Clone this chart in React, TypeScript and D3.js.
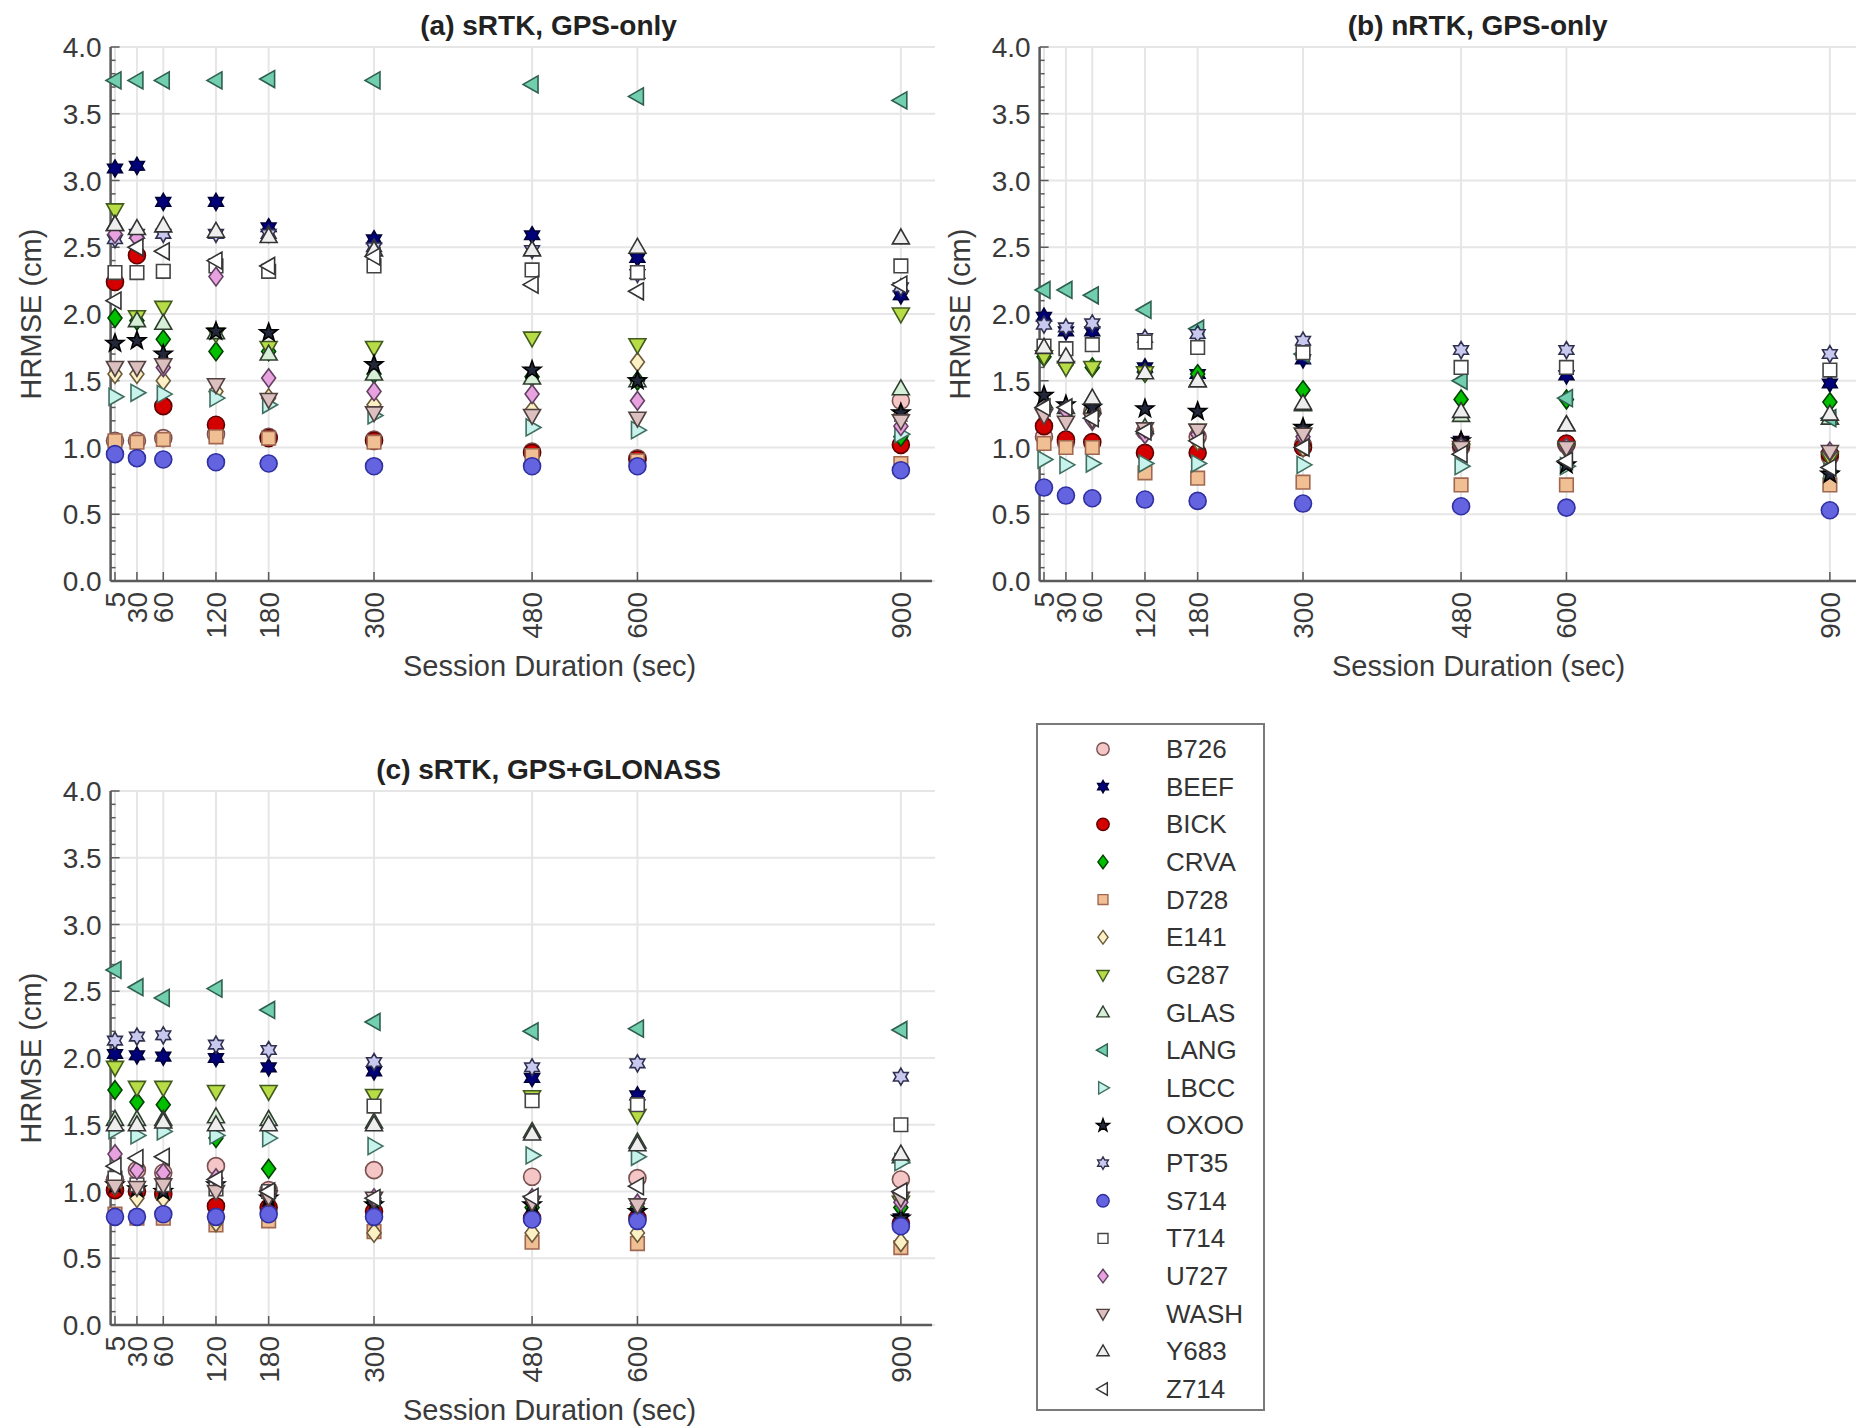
import React from "react";
import * as d3 from "d3";

const durations = [5, 30, 60, 120, 180, 300, 480, 600, 900];
const yTicks = [0, 0.5, 1, 1.5, 2, 2.5, 3, 3.5, 4];
const stations = ["B726", "BEEF", "BICK", "CRVA", "D728", "E141", "G287", "GLAS", "LANG", "LBCC", "OXOO", "PT35", "S714", "T714", "U727", "WASH", "Y683", "Z714"];
const shapes = ["o", "h", "o", "d", "s", "d", "v", "^", "<", ">", "p", "h", "o", "s", "d", "v", "^", "<"];
const faces = ["#f4c6c6", "#00007a", "#d40000", "#00c000", "#f0bf94", "#fdf0c4", "#b8dc46", "#d6efd6", "#72cfae", "#c8f2ec", "#22283a", "#c9c9ef", "#6464e0", "#ffffff", "#e8a2e0", "#dcc0c0", "#eeeeee", "#ffffff"];
const edges = ["#7a5050", "#00003a", "#600000", "#004000", "#a06850", "#6b5a3a", "#405a20", "#2f3f2f", "#2f5f50", "#3f6f60", "#000000", "#303050", "#3030a0", "#444444", "#604060", "#504040", "#333333", "#333333"];

// (a) sRTK, GPS-only  — rows follow `stations`, columns follow `durations`
const panelA = [
  [1.05, 1.05, 1.07, 1.1, 1.08, 1.06, 0.97, 0.92, 1.35],
  [3.09, 3.11, 2.84, 2.84, 2.65, 2.56, 2.59, 2.42, 2.14],
  [2.24, 2.44, 1.31, 1.17, 1.07, 1.05, 0.96, 0.91, 1.02],
  [1.97, 1.95, 1.81, 1.72, 1.72, 1.55, 1.53, 1.5, 1.08],
  [1.05, 1.04, 1.06, 1.08, 1.07, 1.04, 0.94, 0.9, 0.88],
  [1.55, 1.55, 1.5, 1.42, 1.37, 1.32, 1.28, 1.64, 1.25],
  [2.78, 1.98, 2.05, 1.85, 1.75, 1.75, 1.82, 1.77, 2.0],
  [2.67, 1.95, 1.93, 1.86, 1.7, 1.55, 1.52, 1.5, 1.44],
  [3.75, 3.75, 3.75, 3.75, 3.76, 3.75, 3.72, 3.63, 3.6],
  [1.38, 1.41, 1.4, 1.37, 1.32, 1.24, 1.15, 1.13, 1.1],
  [1.78, 1.8, 1.7, 1.87, 1.86, 1.62, 1.58, 1.5, 1.26],
  [2.56, 2.6, 2.6, 2.6, 2.6, 2.5, 2.48, 2.3, 2.2],
  [0.95, 0.92, 0.91, 0.89, 0.88, 0.86, 0.86, 0.86, 0.83],
  [2.31, 2.31, 2.32, 2.36, 2.32, 2.36, 2.33, 2.31, 2.36],
  [2.6, 2.57, 1.6, 2.28, 1.52, 1.42, 1.4, 1.35, 1.16],
  [1.6, 1.6, 1.62, 1.47, 1.36, 1.26, 1.24, 1.22, 1.2],
  [2.67, 2.64, 2.66, 2.62, 2.58, 2.48, 2.48, 2.5, 2.57],
  [2.1, 2.5, 2.47, 2.4, 2.36, 2.43, 2.22, 2.17, 2.22],
];

// (b) nRTK, GPS-only
const panelB = [
  [1.08, 1.04, 1.27, 1.12, 1.08, 1.02, 1.0, 1.02, 0.93],
  [1.98, 1.87, 1.87, 1.6, 1.55, 1.66, 1.05, 1.54, 1.48],
  [1.16, 1.06, 1.04, 0.96, 0.96, 1.0, 1.02, 1.03, 0.95],
  [1.68, 1.62, 1.6, 1.56, 1.55, 1.43, 1.36, 1.36, 1.34],
  [1.03, 1.0, 1.0, 0.81, 0.77, 0.74, 0.72, 0.72, 0.72],
  [1.73, 1.62, 1.25, 1.1, 1.05, 1.0, 1.0, 1.0, 0.95],
  [1.68, 1.6, 1.6, 1.56, 1.13, 1.1, 0.98, 0.98, 0.92],
  [1.34, 1.3, 1.3, 1.15, 1.5, 1.32, 1.24, 1.17, 1.22],
  [2.18, 2.18, 2.14, 2.03, 1.89, 1.7, 1.5, 1.37, 1.22],
  [0.91, 0.87, 0.88, 0.88, 0.88, 0.87, 0.86, 0.86, 0.82],
  [1.39, 1.32, 1.3, 1.29, 1.27, 1.15, 1.05, 0.87, 0.8],
  [1.92, 1.9, 1.93, 1.82, 1.85, 1.8, 1.73, 1.73, 1.7],
  [0.7, 0.64, 0.62, 0.61, 0.6, 0.58, 0.56, 0.55, 0.53],
  [1.76, 1.74, 1.77, 1.79, 1.75, 1.71, 1.6, 1.6, 1.58],
  [1.28, 1.28, 1.2, 1.1, 1.1, 1.08, 1.0, 1.0, 0.97],
  [1.24, 1.19, 1.21, 1.14, 1.13, 1.1, 1.0, 1.0, 0.97],
  [1.75, 1.68, 1.37, 1.56, 1.5, 1.33, 1.27, 1.17, 1.25],
  [1.3, 1.3, 1.22, 1.12, 1.05, 1.0, 0.95, 0.9, 0.85],
];

// (c) sRTK, GPS+GLONASS
const panelC = [
  [1.09, 1.16, 1.14, 1.19, 1.01, 1.16, 1.11, 1.1, 1.09],
  [2.03, 2.02, 2.01, 2.0, 1.93, 1.9, 1.85, 1.72, 0.8],
  [1.01, 1.0, 0.98, 0.89, 0.88, 0.85, 0.8, 0.8, 0.76],
  [1.76, 1.67, 1.65, 1.4, 1.17, 0.93, 0.88, 0.88, 0.88],
  [0.83, 0.8, 0.8, 0.75, 0.78, 0.7, 0.62, 0.61, 0.58],
  [1.04, 0.95, 0.95, 0.77, 0.96, 0.69, 0.69, 0.69, 0.62],
  [1.93, 1.78, 1.78, 1.75, 1.75, 1.72, 1.71, 1.57, 0.92],
  [1.54, 1.54, 1.54, 1.56, 1.54, 1.52, 1.45, 1.37, 1.26],
  [2.66, 2.53, 2.45, 2.52, 2.36, 2.27, 2.2, 2.22, 2.21],
  [1.46, 1.42, 1.45, 1.42, 1.4, 1.34, 1.27, 1.26, 1.22],
  [1.05, 1.02, 1.0, 1.05, 0.95, 0.9, 0.9, 0.85, 0.8],
  [2.13, 2.16, 2.17, 2.1, 2.06, 1.97, 1.93, 1.96, 1.86],
  [0.81, 0.81, 0.83, 0.81, 0.83, 0.81, 0.79, 0.78, 0.74],
  [1.1, 1.05, 1.05, 1.02, 1.0, 1.64, 1.68, 1.65, 1.5],
  [1.28, 1.16, 1.14, 1.1, 0.98, 0.95, 0.95, 0.91, 0.92],
  [1.04, 1.03, 1.05, 1.0, 0.96, 0.95, 0.92, 0.9, 0.95],
  [1.5, 1.5, 1.52, 1.5, 1.5, 1.5, 1.43, 1.35, 1.28],
  [1.19, 1.25, 1.26, 1.09, 1.0, 0.95, 0.96, 1.04, 1.0],
];

const FONT = "'Liberation Sans', Arial, sans-serif";

function starPath(n: number, ro: number, ri: number) {
  const pts: [number, number][] = [];
  for (let i = 0; i < 2 * n; i++) {
    const a = -Math.PI / 2 + (i * Math.PI) / n;
    const r = i % 2 === 0 ? ro : ri;
    pts.push([r * Math.cos(a), r * Math.sin(a)]);
  }
  return d3.line()(pts) + "Z";
}

function markerPath(shape: string, r: number) {
  switch (shape) {
    case "o":
      return d3.symbol(d3.symbolCircle, Math.PI * r * r)() as string;
    case "s": {
      const h = r * 0.8;
      return `M${-h},${-h}L${h},${-h}L${h},${h}L${-h},${h}Z`;
    }
    case "d":
      return `M0,${-r * 1.1}L${r * 0.82},0L0,${r * 1.1}L${-r * 0.82},0Z`;
    case "^":
      return `M0,${-r * 1.05}L${r},${r * 0.7}L${-r},${r * 0.7}Z`;
    case "v":
      return `M0,${r * 1.05}L${r},${-r * 0.7}L${-r},${-r * 0.7}Z`;
    case "<":
      return `M${-r * 1.05},0L${r * 0.7},${-r}L${r * 0.7},${r}Z`;
    case ">":
      return `M${r * 1.05},0L${-r * 0.7},${-r}L${-r * 0.7},${r}Z`;
    case "p":
      return starPath(5, r * 1.1, r * 0.45);
    case "h":
      return starPath(6, r * 1.0, r * 0.58);
    default:
      return "";
  }
}

type PanelProps = {
  left: number;
  top: number;
  bottom: number;
  axisRight: number;
  title: string;
  data: number[][];
};

function Panel({ left, top, bottom, axisRight, title, data }: PanelProps) {
  const x = d3.scaleLinear().domain([0, 935]).range([left, left + 821]);
  const y = d3.scaleLinear().domain([0, 4]).range([bottom, top]);
  const minor = d3.range(0, 4.0001, 0.1);
  const gridRight = axisRight + 3;
  return (
    <g>
      {yTicks.map((t) => (
        <line key={"gy" + t} x1={left} x2={gridRight} y1={y(t)} y2={y(t)} stroke="#e6e6e6" strokeWidth={2} />
      ))}
      {durations.map((d) => (
        <line key={"gx" + d} x1={x(d)} x2={x(d)} y1={top} y2={bottom} stroke="#e6e6e6" strokeWidth={2} />
      ))}
      <line x1={left} x2={axisRight} y1={bottom} y2={bottom} stroke="#5a5a5a" strokeWidth={2.5} />
      <line x1={left} x2={left} y1={top} y2={bottom} stroke="#5a5a5a" strokeWidth={2.5} />
      {minor.map((t, i) => (
        <line key={"mt" + i} x1={left} x2={left + (i % 5 === 0 ? 9 : 5)} y1={y(t)} y2={y(t)} stroke="#5a5a5a" strokeWidth={1.5} />
      ))}
      {durations.map((d) => (
        <line key={"xt" + d} x1={x(d)} x2={x(d)} y1={bottom} y2={bottom - 9} stroke="#5a5a5a" strokeWidth={1.5} />
      ))}
      {yTicks.map((t) => (
        <text key={"yl" + t} x={left - 9} y={y(t) + 10} textAnchor="end" fontSize={28} fill="#3a3a3a" fontFamily={FONT}>
          {t.toFixed(1)}
        </text>
      ))}
      {durations.map((d) => (
        <text
          key={"xl" + d}
          transform={`translate(${x(d) + 10},${bottom + 11}) rotate(-90)`}
          textAnchor="end"
          fontSize={28}
          fill="#3a3a3a"
          fontFamily={FONT}
        >
          {d}
        </text>
      ))}
      <text x={left + 438} y={top - 12} textAnchor="middle" fontSize={28} fontWeight="bold" fill="#222" fontFamily={FONT}>
        {title}
      </text>
      <text x={left + 439} y={bottom + 95} textAnchor="middle" fontSize={29} fill="#3a3a3a" fontFamily={FONT}>
        Session Duration (sec)
      </text>
      <text
        transform={`translate(${left - 70},${(top + bottom) / 2}) rotate(-90)`}
        textAnchor="middle"
        fontSize={29}
        fill="#3a3a3a"
        fontFamily={FONT}
      >
        HRMSE (cm)
      </text>
      {stations.map((s, si) => (
        <g key={s}>
          {data[si].map((v, di) => (
            <path
              key={di}
              d={markerPath(shapes[si], 8.5)}
              transform={`translate(${x(durations[di])},${y(v)})`}
              fill={faces[si]}
              stroke={edges[si]}
              strokeWidth={1.6}
            />
          ))}
        </g>
      ))}
    </g>
  );
}

function Legend() {
  const x0 = 1037, y0 = 724, w = 227, h = 686;
  const rowY = d3.scaleLinear().domain([0, stations.length - 1]).range([749, 1389]);
  return (
    <g>
      <rect x={x0} y={y0} width={w} height={h} fill="#fff" stroke="#7a7a7a" strokeWidth={2} />
      {stations.map((s, i) => (
        <g key={s}>
          <path d={markerPath(shapes[i], 6.2)} transform={`translate(${1103},${rowY(i)})`} fill={faces[i]} stroke={edges[i]} strokeWidth={1.4} />
          <text x={1166} y={rowY(i) + 9} fontSize={26} fill="#333" fontFamily={FONT}>
            {s}
          </text>
        </g>
      ))}
    </g>
  );
}

export default function App() {
  return (
    <svg width={1856} height={1426} style={{ position: "absolute", left: 0, top: 0, background: "#fff" }}>
      <rect width={1856} height={1426} fill="#fff" />
      <Panel left={110.6} top={47} bottom={581} axisRight={932} title="(a) sRTK, GPS-only" data={panelA} />
      <Panel left={1039.6} top={47} bottom={581} axisRight={1856} title="(b) nRTK, GPS-only" data={panelB} />
      <Panel left={110.6} top={791} bottom={1325} axisRight={932} title="(c) sRTK, GPS+GLONASS" data={panelC} />
      <Legend />
    </svg>
  );
}
